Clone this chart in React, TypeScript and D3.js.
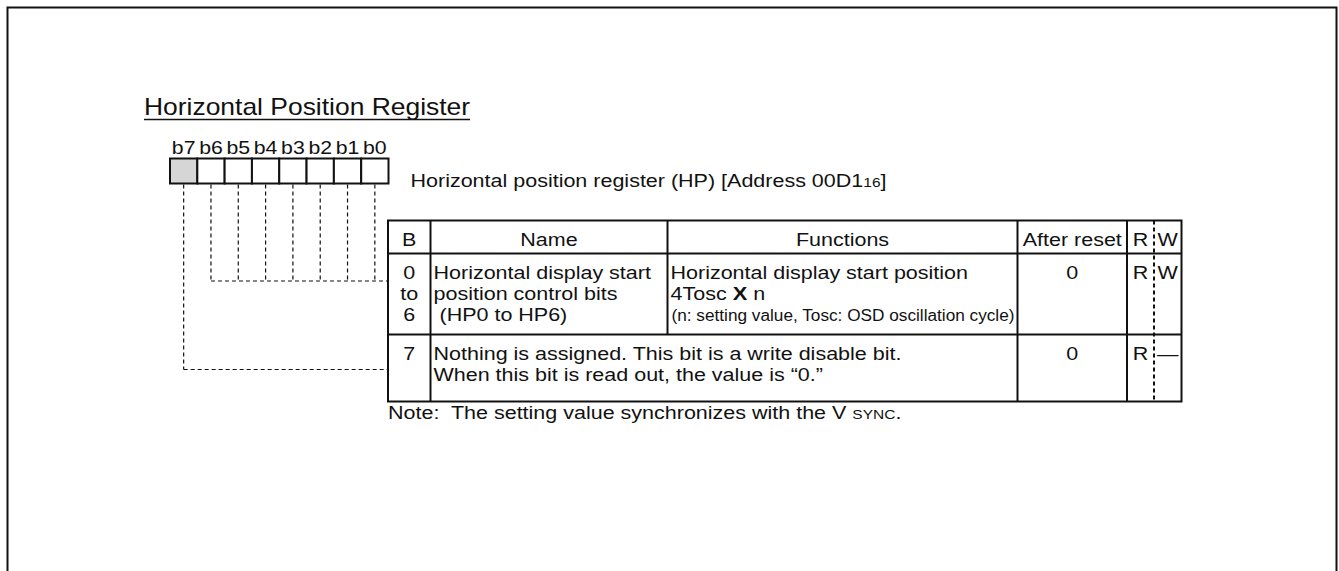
import * as d3 from "d3";

// register bits, left to right
const bitLabels = ["b7", "b6", "b5", "b4", "b3", "b2", "b1", "b0"];
const reservedBits = ["b7"];

const titleText = "Horizontal Position Register";
const registerText = "Horizontal position register (HP) [Address 00D1";
const addressBase = "16";

const columnHeaders = ["B", "Name", "Functions", "After reset", "R", "W"];

// table rows
const rowBits = [["0", "to", "6"], ["7"]];
const rowNames = [["Horizontal display start", "position control bits", " (HP0 to HP6)"], null];
const rowFunctions = [["Horizontal display start position", "4Tosc", "(n: setting value, Tosc: OSD oscillation cycle)"], null];
const rowMerged = [null, ["Nothing is assigned. This bit is a write disable bit.", "When this bit is read out, the value is \u201c0.\u201d"]];
const rowReset = ["0", "0"];
const rowRead = ["R", "R"];
const rowWrite = ["W", "\u2014"];

// which table row each bit's leader line goes to
const bitRow = { b7: 1, b6: 0, b5: 0, b4: 0, b3: 0, b2: 0, b1: 0, b0: 0 };

const noteText = "Note:  The setting value synchronizes with the V ";
const noteSmall = "SYNC";

// layout
const W = 1339;
const H = 571;
const FONT = "'Liberation Sans', Arial, Helvetica, sans-serif";
const SX = 1.15; // glyphs in the source are a bit wider than Arial
const BODY = 18.7;
const INK = "#111";

const colEdges = [388, 430.5, 667.5, 1017.5, 1127, 1154, 1181.5];
const rowEdges = [220.5, 253.5, 334.5, 401.5];
const lineGap = 21;
const firstLine = 25;

function T({ x, y, anchor = "start", size = BODY, sx = SX, weight = "normal", children }: any) {
  return (
    <text
      transform={`translate(${x},${y}) scale(${sx},1)`}
      textAnchor={anchor}
      fontSize={size}
      fontWeight={weight}
      fontFamily={FONT}
      fill={INK}
      style={{ whiteSpace: "pre" }}
    >
      {children}
    </text>
  );
}

export default function App() {
  const bx = d3.scaleBand<string>().domain(bitLabels).range([170, 388.5]).padding(0);
  const boxTop = 158.5;
  const boxBottom = 183.5;

  const colMid = (i: number) => (colEdges[i] + colEdges[i + 1]) / 2;
  const lineY = (r: number, k: number) => rowEdges[r] + firstLine + k * lineGap;
  // leader lines meet the table between the first and second text lines of their row
  const leaderY = [lineY(1, 0) + 2.5, lineY(2, 0) + 10];

  const tableLeft = colEdges[0];
  const tableRight = colEdges[colEdges.length - 1];

  return (
    <svg
      width={W}
      height={H}
      viewBox={`0 0 ${W} ${H}`}
      style={{ position: "absolute", left: 0, top: 0, background: "#fff" }}
    >
      <rect width={W} height={H} fill="#fff" />

      {/* page frame (open at the bottom) */}
      <path d={`M7.5,${H} V7.5 H1336.5 V${H}`} fill="none" stroke={INK} strokeWidth={2} />

      {/* title */}
      <T x={144} y={115} size={23}>{titleText}</T>
      <line x1={144} x2={470} y1={119.5} y2={119.5} stroke={INK} strokeWidth={1.6} />

      {/* bit labels and boxes */}
      {bitLabels.map((b) => (
        <T key={"l" + b} x={bx(b)! + bx.bandwidth() / 2} y={154} anchor="middle" size={18.5}>
          {b}
        </T>
      ))}
      {bitLabels.map((b) => (
        <rect
          key={"r" + b}
          x={bx(b)}
          y={boxTop}
          width={bx.bandwidth()}
          height={boxBottom - boxTop}
          fill={reservedBits.includes(b) ? "#d6d6d6" : "#fff"}
          stroke={INK}
          strokeWidth={2}
        />
      ))}

      <T x={410.5} y={186.5}>
        {registerText}
        <tspan fontSize={13.5}>{addressBase}</tspan>]
      </T>

      {/* leader lines */}
      {bitLabels.map((b) => {
        const cx = bx(b)! + bx.bandwidth() / 2;
        const y = leaderY[(bitRow as any)[b]];
        return (
          <line key={"v" + b} x1={cx} x2={cx} y1={boxBottom + 1} y2={y}
            stroke={INK} strokeWidth={1.2} strokeDasharray="4,3" />
        );
      })}
      {[0, 1].map((r) => {
        const bits = bitLabels.filter((b) => (bitRow as any)[b] === r);
        const x0 = d3.min(bits, (b) => bx(b)! + bx.bandwidth() / 2)!;
        return (
          <line key={"h" + r} x1={x0} x2={tableLeft} y1={leaderY[r]} y2={leaderY[r]}
            stroke={INK} strokeWidth={1.2} strokeDasharray="4,3" />
        );
      })}

      {/* table grid */}
      <rect x={tableLeft} y={rowEdges[0]} width={tableRight - tableLeft}
        height={rowEdges[3] - rowEdges[0]} fill="none" stroke={INK} strokeWidth={2} />
      {rowEdges.slice(1, 3).map((y) => (
        <line key={"rw" + y} x1={tableLeft} x2={tableRight} y1={y} y2={y} stroke={INK} strokeWidth={2} />
      ))}
      {/* B | Name */}
      <line x1={colEdges[1]} x2={colEdges[1]} y1={rowEdges[0]} y2={rowEdges[3]} stroke={INK} strokeWidth={2} />
      {/* Name | Functions (not in merged row) */}
      <line x1={colEdges[2]} x2={colEdges[2]} y1={rowEdges[0]} y2={rowEdges[2]} stroke={INK} strokeWidth={2} />
      {/* Functions | After reset, After reset | R */}
      {[3, 4].map((i) => (
        <line key={"c" + i} x1={colEdges[i]} x2={colEdges[i]} y1={rowEdges[0]} y2={rowEdges[3]} stroke={INK} strokeWidth={2} />
      ))}
      {/* R : W dashed */}
      <line x1={colEdges[5]} x2={colEdges[5]} y1={rowEdges[0]} y2={rowEdges[3]}
        stroke={INK} strokeWidth={2} strokeDasharray="4,3" />

      {/* headers */}
      {columnHeaders.map((h, i) => (
        <T key={"hd" + i} x={colMid(i)} y={lineY(0, 0)} anchor="middle">{h}</T>
      ))}

      {/* row contents */}
      {rowBits.map((lines, r) =>
        lines.map((s, k) => (
          <T key={"b" + r + k} x={colMid(0)} y={lineY(r + 1, k)} anchor="middle">{s}</T>
        ))
      )}
      {rowNames.map((lines, r) =>
        lines ? lines.map((s, k) => (
          <T key={"n" + r + k} x={colEdges[1] + 3} y={lineY(r + 1, k)}>{s}</T>
        )) : null
      )}
      {rowFunctions.map((lines, r) =>
        lines ? lines.map((s, k) => {
          if (k === 1)
            return (
              <T key={"f" + r + k} x={colEdges[2] + 3} y={lineY(r + 1, k)}>
                {s + " "}<tspan fontWeight="bold" fontSize={19}>X</tspan>{" n"}
              </T>
            );
          if (k === 2)
            return (
              <text key={"f" + r + k} x={colEdges[2] + 4} y={lineY(r + 1, k)}
                fontSize={16} fontFamily={FONT} fill={INK}
                textLength={colEdges[3] - colEdges[2] - 7} lengthAdjust="spacingAndGlyphs">
                {s}
              </text>
            );
          return <T key={"f" + r + k} x={colEdges[2] + 3} y={lineY(r + 1, k)}>{s}</T>;
        }) : null
      )}
      {rowMerged.map((lines, r) =>
        lines ? lines.map((s, k) => (
          <T key={"m" + r + k} x={colEdges[1] + 3} y={lineY(r + 1, k)}>{s}</T>
        )) : null
      )}
      {rowReset.map((s, r) => (
        <T key={"z" + r} x={colMid(3)} y={lineY(r + 1, 0)} anchor="middle">{s}</T>
      ))}
      {rowRead.map((s, r) => (
        <T key={"rd" + r} x={colMid(4)} y={lineY(r + 1, 0)} anchor="middle">{s}</T>
      ))}
      {rowWrite.map((s, r) => (
        <T key={"wr" + r} x={colMid(5)} y={lineY(r + 1, 0)} anchor="middle">{s}</T>
      ))}

      {/* note */}
      <T x={388} y={418.5}>
        {noteText}
        <tspan fontSize={13.5}>{noteSmall}</tspan>.
      </T>
    </svg>
  );
}
